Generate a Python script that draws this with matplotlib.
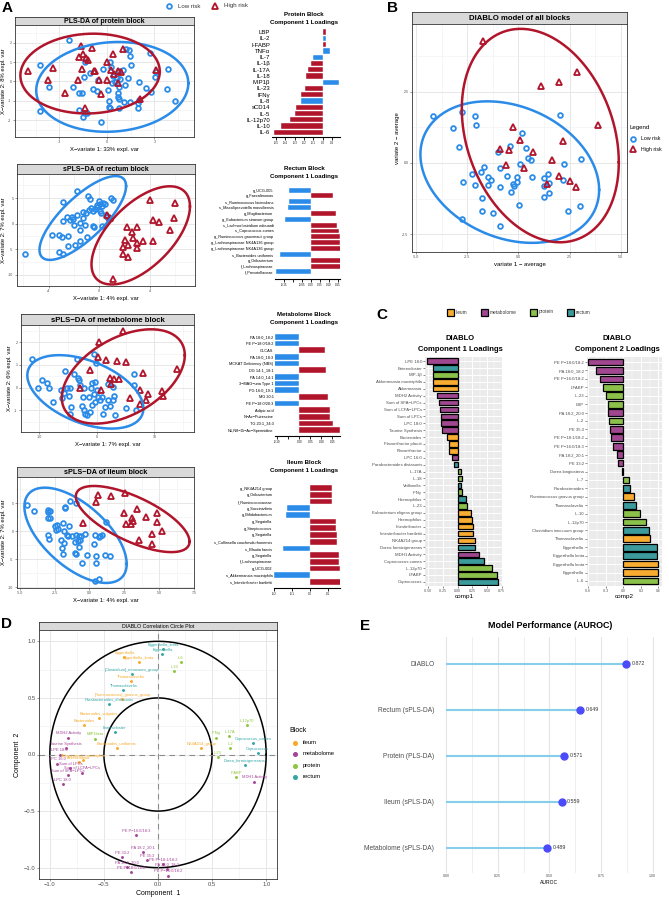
import numpy as np
import matplotlib.pyplot as plt
from matplotlib.ticker import AutoMinorLocator, FormatStrFormatter
from matplotlib.patches import Rectangle

plt.rcParams['font.family'] = ['Liberation Sans', 'DejaVu Sans']

BLUE = '#2B8BE8'
RED = '#B0152B'
BLOCK_COL = {'ileum': '#F9AC32', 'metabolome': '#A0478F', 'protein': '#8BC14A', 'rectum': '#3A9A9C'}
CIRC_COL = {'ileum': '#F7A928', 'metabolome': '#A44499', 'protein': '#8CC63E', 'rectum': '#33A7A7'}

# ---------------- panel A : protein PLS-DA ----------------
prot_low_x = [-2.40, -4.21, -3.64, -4.21, -2.15, -1.77, -1.55, -1.09, -0.53, -0.85, -0.60, -1.77, -1.40, -1.51,
              -1.23, -0.34, 0.15, 0.15, 0.19, 0.09, 0.30, 0.21, 0.26, 0.64, 0.74, 0.79, 0.68, 0.72, 0.79, 0.79,
              1.15, 1.32, 1.21, 1.38, 1.47, 1.53, 1.11, 1.49, 1.96, 2.02, 1.96, 2.49, 2.81, 3.06, 3.13, 2.74,
              3.81, 3.87, 4.30, 2.04, 0.49, 0.36, 0.83, 1.00, -0.26, -1.38, -1.47]
prot_low_y = [2.17, 0.88, -0.28, -1.52, -0.28, -0.59, -0.59, 0.45, 0.10, -0.41, -0.48, -1.48, -1.62, -1.86,
              -1.66, -2.09, -1.02, -1.34, -1.40, -0.45, -0.07, 1.02, 0.76, 0.16, 0.55, -0.28, -0.59, -0.79, -0.91,
              -1.36, -0.19, 0.16, 1.71, 1.62, 1.31, 0.84, -1.05, -1.05, -1.14, -0.97, -1.40, -0.36, -0.53, 0.21,
              0.50, 1.48, -0.40, 0.67, -1.02, -0.02, -0.02, 0.28, 0.12, 0.59, 0.64, 1.02, 0.24]
prot_high_x = [-5.0, -3.72, -3.43, -2.66, -1.81, -1.66, -1.77, -1.49, -1.30, -1.17, -1.55, -0.91, -0.77, -0.49,
               -0.38, 0.0, 0.0, 0.36, 0.26, 0.43, 0.68, 0.89, 1.00, 0.68, 2.11, 3.13, -1.38, -0.81]
prot_high_y = [0.55, 0.10, 0.72, -0.62, 0.10, 1.83, 1.28, 1.40, 1.24, 1.10, 0.67, 1.76, 0.55, 0.10,
               -0.66, 1.02, 0.10, 1.41, 0.59, 0.41, 0.55, 0.50, 1.71, -0.07, -0.93, 0.59, -1.40, 0.53]
# ellipse: centre x, centre y, half width, half height, correlation
prot_ell_low = [0.34, -0.28, 4.8, 2.33, 0.08]
prot_ell_high = [-1.06, 0.41, 4.4, 2.07, 0.05]

# ---------------- panel A : rectum sPLS-DA ----------------
rect_low_x = [-5.86, -3.75, -3.14, -2.96, -3.14, -2.82, -2.82, -1.72, -2.56, -2.82, -2.43, -2.03, -2.30, -1.98,
              -2.16, -1.72, -1.50, -1.50, -1.50, -1.90, -2.43, -1.24, -1.03, -1.29, -1.11, -0.98, -0.84, -0.71,
              -0.77, -0.63, -0.50, -0.32, -0.45, -0.37, -0.18, -0.18, 0.03, 0.08, 0.21, 0.08, 0.13, 0.34, 0.47,
              0.55, 0.92, 1.13, 0.66, 0.21]
rect_low_y = [-5.88, -2.16, -2.16, -2.61, -5.62, -5.88, 4.18, 6.34, 1.31, 0.46, -2.35, 0.92, 0.65, -0.20,
              1.31, 1.76, 0.13, -1.18, -3.46, -4.12, -4.31, 1.11, 2.09, 2.22, -0.20, -2.61, 5.36, 4.84,
              2.75, 3.07, 2.42, 2.88, -0.39, -0.65, 3.27, 3.73, 4.38, 3.92, 3.53, 2.42, 2.09, 4.05, 3.92,
              1.76, 5.03, 4.71, 1.31, -0.39]
rect_high_x = [1.13, 0.66, 0.87, 2.24, 2.98, 2.59, 2.06, 2.66, 2.98, 2.32, 1.93, 2.98, 1.93, 2.32, 3.51, 4.25,
               4.06, 4.25, 4.72, 5.62, 5.96, 6.02]
rect_high_y = [-10.85, 1.76, 1.11, -0.72, -0.72, -1.70, -3.14, -2.81, -3.79, -4.12, -4.58, -4.77, -5.88, -6.54,
               -3.46, -3.33, 4.58, 0.78, 0.26, -1.18, 1.11, 4.05]
rect_ell_low = [-1.29, 1.1, 3.43, 8.2, 0.76]
rect_ell_high = [3.3, -2.3, 3.9, 9.6, 0.59]

# ---------------- panel A : metabolome sPLS-DA ----------------
met_low_x = [-11.27, -9.54, -8.67, -8.38, -10.23, -7.69, -6.24, -6.07, -5.78, -5.20, -4.91, -4.62, -5.49, -4.45,
             -4.62, -3.47, -3.93, -3.35, -3.18, -2.89, -2.31, -2.43, -2.60, -2.31, -2.02, -1.73, -1.16, -1.45,
             -1.04, -0.87, -0.58, -0.12, -0.29, 0.0, 0.12, -0.29, 0.58, 0.87, 1.04, 1.45, 1.85, 2.31, 2.89,
             3.01, 3.18, 2.89, 1.85, -0.58, 6.42, 6.47, 5.03, 6.82, -0.87]
met_low_y = [1.26, 0.35, 0.21, -0.01, -0.01, -0.64, -0.12, -0.44, -0.22, -0.04, -0.37, 0.0, 0.74, -0.86,
             -1.15, 1.24, 0.59, 0.44, 0.32, 0.10, -0.04, -0.41, -0.83, -1.0, -1.15, -1.23, -1.08, -0.41,
             -0.04, 0.18, 1.46, 1.09, 0.25, -0.12, -0.41, -0.64, -0.56, -0.41, -1.15, -0.86, -0.53, -0.83, -0.56,
             -0.38, -1.23, 0.03, 0.15, -0.27, 0.62, 0.13, -0.89, -1.0, -0.78]
met_high_x = [4.62, 0.29, 0.12, 1.56, 3.58, 5.09, -1.27, 2.31, 3.01, 3.93, 2.49, 0.69, -2.89, 5.78, 7.51, 8.09,
              8.96, 8.50, 7.51, 11.27, 11.45, 13.87]
met_high_y = [2.50, 2.02, 1.36, 1.21, 1.18, 1.14, 0.77, 0.44, 0.38, 0.38, 0.15, -0.12, -0.04, -0.46, -0.12, 0.66,
              -0.27, -0.53, -0.71, -0.15, -0.38, 0.84]
met_ell_low = [-2.0, -0.19, 10.1, 1.62, -0.45]
met_ell_high = [4.6, 0.49, 10.7, 2.08, 0.45]

# ---------------- panel A : ileum sPLS-DA ----------------
ile_low_x = [-4.50, -3.96, -3.01, -2.94, -2.94, -2.82, -2.84, -2.46, -2.30, -2.23, -2.42, -1.90, -1.47, -1.82,
             -1.64, -1.52, -2.06, -1.82, -1.94, -1.87, -3.01, -2.89, -1.42, -1.75, -1.75, -1.0, -1.0, -1.04,
             -0.81, -0.71, -0.64, -0.76, -1.04, -0.95, -0.52, -0.33, -0.17, 0.38, 0.31, 0.47, 0.50, 0.66, 0.78,
             0.90, 1.18, 1.14, 1.45, 0.43, 0.71, -0.76, -1.23]
ile_low_y = [4.71, 3.65, 3.82, 3.53, 2.47, 2.47, 3.71, 0.88, 1.18, 0.41, 0.29, 1.47, 0.88, 0.12,
             -0.71, -0.88, -1.47, -2.06, -2.94, -4.0, -0.71, -1.29, 5.41, 4.41, 4.24, 5.0, -0.71, -1.88,
             -1.76, -1.47, -0.88, -2.82, -3.82, -4.0, -5.59, -0.47, -4.24, -0.71, -2.24, -4.41, -5.59, -1.06, -0.88,
             -0.71, 1.76, -4.24, -4.41, -8.94, -8.53, -0.76, -0.88]
ile_high_x = [0.62, 0.50, 1.56, 2.56, 2.51, 3.39, 3.03, 3.10, 2.99, 2.63, 4.05, 4.86, 4.81, 5.21, 4.50, 4.50,
              3.58, -0.47]
ile_high_y = [6.47, 5.18, 6.29, 6.88, 3.35, 3.94, 2.35, 1.94, 1.29, 1.29, 2.65, 3.35, 1.65, 0.0, -0.47, -2.18,
              -1.47, 1.47]
ile_ell_low = [-1.0, -0.7, 3.67, 8.5, -0.6]
ile_ell_high = [3.1, 2.2, 4.08, 5.9, -0.68]

# ---------------- panel A : loadings ----------------
prot_names = ['LBP', 'IL-2', 'I-FABP', 'TNFα', 'IL-7', 'IL-1β', 'IL-17A', 'IL-18', 'MIP1β', 'IL-23', 'IFNγ',
              'IL-8', 'sCD14', 'IL-5', 'IL-12p70', 'IL-10', 'IL-6']
prot_load = [0.03, 0.03, 0.04, 0.08, -0.10, -0.125, -0.155, -0.18, 0.18, -0.19, -0.23, -0.23, -0.29, -0.30,
             -0.35, -0.45, -0.52]
prot_group = ['High', 'Low', 'High', 'Low', 'Low', 'High', 'High', 'High', 'Low', 'High', 'High', 'Low', 'High',
              'High', 'High', 'High', 'High']

rect_names = ['g_UCG-005', 'g_Faecalimonas', 's_Ruminococcus bicirculans', 's_Massiliprevotella massiliensis',
              'g_Mogibacterium', 'g_Eubacterium siraeum group', 's_Lachnoclostridium edouardi',
              's_Coprococcus comes', 'g_Ruminococcus gauvreauii group', 'g_Lachnospiraceae NK4A136 group',
              'g_Lachnospiraceae NK4A136 group', 's_Bacteroides uniformis', 'g_Oribacterium',
              'f_Lachnospiraceae', 'f_Prevotellaceae']
rect_load = [-0.124, 0.124, -0.124, -0.13, 0.139, -0.144, 0.146, 0.155, 0.16, 0.16, 0.165, -0.172, 0.175, 0.18,
             -0.195]
rect_group = ['Low', 'High', 'Low', 'Low', 'High', 'Low', 'High', 'High', 'High', 'High', 'High', 'Low', 'High',
              'High', 'Low']

met_names = ['PA 18:0_18:2', 'PE P−18:0/18:2', 'GLCAS', 'PA 18:0_18:3', 'MCKAT Deficiency (NBS)',
             'DG 14:1_18:1', 'PA 14:0_14:1', '3−MAG−uria Type 1', 'PG 16:0_19:1', 'MG 20:1', 'PE P−18:0/20:3',
             'Adipic acid', 'N−Ac−Putrescine', 'TG 20:1_34:3', 'N1,N8−Di−Ac−Spermidine']
met_load = [-0.11, -0.11, 0.117, -0.115, -0.115, 0.121, -0.118, -0.123, -0.123, 0.132, -0.13, 0.139, 0.139,
            0.152, 0.185]
met_group = ['Low', 'Low', 'High', 'Low', 'Low', 'High', 'Low', 'Low', 'Low', 'High', 'Low', 'High', 'High',
             'High', 'High']

ile_names = ['g_NK4A214 group', 'g_Oribacterium', 'f_Ruminococcaceae', 'g_Succinivibrio', 'g_Bifidobacterium',
             'g_Segatella', 'g_Streptococcus', 'g_Segatella', 's_Collinsella couchesdurhonensis',
             's_Blautia faecis', 'g_Segatella', 'f_Lachnospiraceae', 'g_UCG-002', 's_Akkermansia muciniphila',
             's_Intestinibacter bartlettii']
ile_load = [0.12, 0.125, 0.125, -0.126, -0.135, 0.143, 0.143, 0.148, 0.148, -0.148, 0.163, 0.163, 0.168, -0.2,
            0.2]
ile_group = ['High', 'High', 'High', 'Low', 'Low', 'High', 'High', 'High', 'High', 'Low', 'High', 'High', 'High',
             'Low', 'High']

# ---------------- panel B : DIABLO ----------------
diab_low_x = [-4.18, -2.76, -3.21, -2.14, -2.06, -2.88, -2.72, -2.76, -2.24, -2.14, -1.70, -1.82, -1.46, -1.33,
              -1.46, -1.78, -1.78, -1.25, -0.97, -0.92, -0.92, -0.92, -0.41, -0.57, -0.37, -0.28, -0.19, -0.08,
              -0.05, 0.08, 0.16, 0.05, 0.37, 0.49, 0.60, 0.65, 1.23, 1.26, 1.46, 1.51, 1.51, 1.25, 2.03, 2.22,
              2.16, 2.41, 3.03, 3.08]
diab_low_y = [1.64, 1.78, 1.23, 1.64, 1.34, 0.56, -0.68, -1.95, -0.37, -0.78, -0.14, -0.33, -0.49, -0.58,
              -0.78, -1.23, -1.69, -1.75, 0.37, -0.18, -0.84, -2.20, 0.61, -0.47, -1.02, -0.72, -0.82, -0.67,
              -0.49, -0.04, 1.05, -1.48, 0.53, 0.18, 0.09, -0.50, -0.53, -1.19, -0.37, -0.70, -1.05, -0.82, 1.67,
              -0.02, -0.58, -1.69, -1.52, 0.14]
diab_high_x = [-1.75, -0.24, -0.89, -0.47, -0.62, 0.06, 0.26, 0.73, 1.10, 1.96, 2.88, 3.89, 2.16, 1.64, 1.99,
               2.51, 2.80, 1.38]
diab_high_y = [4.29, 1.26, 0.50, 0.44, -0.08, 0.79, -0.16, 0.37, 2.71, 2.83, 3.18, 1.32, 0.77, 0.11, -0.44,
               -0.64, -0.83, -0.72]
diab_ell_low = [-0.42, -0.32, 4.36, 2.48, -0.25]
diab_ell_high = [1.07, 0.96, 3.83, 3.74, -0.25]

# ---------------- panel C : DIABLO loadings ----------------
c1_names = ['LPE 18:0', 'Enterocloster', 'MIP-1β', 'Akkermansia muciniphila', 'Akkermansia', 'MDH2 Activity',
            'Sum of SFA−LPCs', 'Sum of LCFA−LPCs', 'Sum of LPCs', 'LPC 18:0', 'Taurine Synthesis', 'Bacteroides',
            'Flavonifractor plautii', 'Flavonifractor', 'LPC 16:0', 'Parabacteroides distasonis', 'IL-17A',
            'IL-18', 'Veillonella', 'IFNγ', 'Haemophilus', 'IL-23', 'Eubacterium eligens group', 'Haemophilus',
            'Intestinibacter', 'Intestinibacter bartlettii', 'NK4A214 group', 'Dorea formicigenerans',
            'MDH1 Activity', 'Coprococcus comes', 'IL-12p70', 'I-FABP', 'Coprococcus']
c1_vals = [-0.51, -0.42, -0.41, -0.41, -0.41, -0.34, -0.32, -0.29, -0.28, -0.28, -0.27, -0.17, -0.14, -0.14,
           -0.09, -0.06, 0.06, 0.08, 0.06, 0.08, 0.15, 0.16, 0.22, 0.25, 0.27, 0.27, 0.29, 0.30, 0.36, 0.44,
           0.58, 0.66, 0.69]
c1_block = ['metabolome', 'rectum', 'protein', 'ileum', 'ileum', 'metabolome', 'metabolome', 'metabolome',
            'metabolome', 'metabolome', 'metabolome', 'ileum', 'ileum', 'ileum', 'metabolome', 'rectum',
            'protein', 'protein', 'rectum', 'protein', 'rectum', 'protein', 'ileum', 'ileum', 'ileum', 'ileum',
            'ileum', 'rectum', 'metabolome', 'rectum', 'protein', 'protein', 'rectum']

c2_names = ['PE P−18:0/18:2', 'PA 18:0_18:2', 'PE P−16:0/18:2', 'I-FABP', 'IL-23', 'LBP', 'PA 18:2_20:0',
            'IL-2', 'PE 35:3', 'PE P−18:1/18:2', 'PE P−16:0/18:3', 'PA 18:2_20:1', 'PE 33:2',
            'Dorea longicatena', 'IL-7', 'Parabacteroides', 'Ruminococcus gnavus group', 'Thomasclavelia',
            'IL-10', 'IL-12p70', 'Clostridium innocuum group', 'Thomasclavelia', 'Eggerthella',
            'Eggerthella lenta', 'Eggerthella lenta', 'Eggerthella', 'IL-6']
c2_vals = [-0.60, -0.47, -0.40, -0.34, -0.30, -0.26, -0.26, -0.25, -0.23, -0.21, -0.17, -0.11, -0.09, -0.03,
           0.09, 0.11, 0.19, 0.22, 0.29, 0.38, 0.44, 0.46, 0.58, 0.58, 0.60, 0.60, 0.60]
c2_block = ['metabolome', 'metabolome', 'metabolome', 'protein', 'protein', 'protein', 'metabolome', 'protein',
            'metabolome', 'metabolome', 'metabolome', 'metabolome', 'metabolome', 'rectum', 'protein', 'rectum',
            'ileum', 'rectum', 'protein', 'protein', 'rectum', 'ileum', 'rectum', 'rectum', 'ileum', 'ileum',
            'protein']

# ---------------- panel D : correlation circle ----------------
d_names = ['Eggerthella_lenta', 'Eggerthella', 'Eggerthella', 'Eggerthella_lenta', 'IL6', 'IL10',
           '[Clostridium]_innocuum_group', 'Thomasclavelia', 'Thomasclavelia', '[Ruminococcus]_gnavus_group',
           'Parabacteroides_distasonis', 'Bacteroides_vulgatus', 'Bacteroides', 'Enterocloster', 'MDH2 Activity',
           'MIP1beta', 'Taurine Synthesis', 'Bacteroides_uniformis', 'LPE 18:0', 'Akkermansia_muciniphila',
           'Akkermansia', 'LPC 16:0', 'Sum of LPCs', 'Sum of LCFA−LPCs', 'Sum of SFA−LPCs', 'LPC 18:0',
           'IL12p70', 'IFNg', 'IL17A', 'Coprococcus_comes', 'IL2', 'NK4A214_group', 'IL23', 'Coprococcus',
           'Dorea_formicigenerans', 'IFABP', 'MDH1 Activity', 'PE P−16:0/18:3', 'PA 18:2_20:1', 'PE 33:2',
           'PE 35:3', 'PE P−18:1/18:2', 'PA 18:2_20:0', 'PA 18:0_18:2', 'PE P−18:0/18:2', 'PE P−16:0/18:2']
d_block = ['rectum', 'rectum', 'ileum', 'ileum', 'protein', 'protein', 'rectum', 'ileum', 'rectum', 'ileum',
           'rectum', 'ileum', 'ileum', 'rectum', 'metabolome', 'protein', 'metabolome', 'ileum', 'metabolome',
           'ileum', 'ileum', 'metabolome', 'metabolome', 'metabolome', 'metabolome', 'metabolome', 'protein',
           'protein', 'protein', 'rectum', 'protein', 'ileum', 'protein', 'rectum', 'rectum', 'protein',
           'metabolome', 'metabolome', 'metabolome', 'metabolome', 'metabolome', 'metabolome', 'metabolome',
           'metabolome', 'metabolome', 'metabolome']
d_x = [0.05, 0.04, -0.31, -0.18, 0.21, 0.15, -0.24, -0.25, -0.32, -0.33, -0.45, -0.55, -0.68, -0.40, -0.83,
       -0.58, -0.85, -0.38, -0.91, -0.69, -0.73, -0.93, -0.81, -0.70, -0.83, -0.88, 0.82, 0.54, 0.66, 0.88,
       0.67, 0.40, 0.55, 0.92, 0.80, 0.72, 0.89, -0.20, -0.14, -0.33, -0.10, 0.05, -0.29, 0.08, -0.25, 0.09]
d_y = [0.93, 0.89, 0.86, 0.82, 0.82, 0.74, 0.71, 0.65, 0.57, 0.49, 0.45, 0.32, 0.26, 0.20, 0.15, 0.14, 0.06,
       0.06, 0.0, -0.05, -0.07, -0.08, -0.12, -0.16, -0.18, -0.26, 0.26, 0.15, 0.16, 0.10, 0.06, 0.06, -0.02,
       0.01, -0.09, -0.20, -0.24, -0.71, -0.86, -0.91, -0.93, -0.97, -0.99, -1.01, -1.04, -1.07]
d_radii = [1.0, 0.5]

# ---------------- panel E : AUROC ----------------
e_models = ['DIABLO', 'Rectum (sPLS-DA)', 'Protein (PLS-DA)', 'Ileum (sPLS-DA)', 'Metabolome (sPLS-DA)']
e_auroc = [0.872, 0.649, 0.571, 0.559, 0.489]

W, H = 669, 900
fig = plt.figure(figsize=(W / 100, H / 100), dpi=100)

# overlay in pixel coordinates for letters, titles and legends
ov = fig.add_axes([0, 0, 1, 1])
ov.set_xlim(0, W)
ov.set_ylim(H, 0)
ov.axis('off')


def px_axes(x0, y0, x1, y1):
    return fig.add_axes([x0 / W, 1 - y1 / H, (x1 - x0) / W, (y1 - y0) / H])


def ellipse_pts(cx, cy, wx, wy, rho):
    t = np.linspace(0, 2 * np.pi, 240)
    return cx + wx * np.cos(t), cy + wy * (rho * np.cos(t) + np.sqrt(1 - rho ** 2) * np.sin(t))


def risk_panel(box, strip_top, title, tsize, low, high, ell_low, ell_high, xlim, ylim, xt, yt, fmt, xlab, ylab,
               lab_size=4.2, tick_size=2.6):
    x0, y0, x1, y1 = box
    st = px_axes(x0, strip_top, x1, y0)
    st.set_facecolor('#D9D9D9')
    st.set_xticks([])
    st.set_yticks([])
    for s in st.spines.values():
        s.set_color('#333333')
        s.set_linewidth(0.6)
    st.text(0.5, 0.45, title, ha='center', va='center', fontsize=tsize, fontweight='bold', transform=st.transAxes)
    ax = px_axes(x0, y0, x1, y1)
    ax.plot(low[0], low[1], ls='none', marker='o', ms=3.4, mfc='none', mec=BLUE, mew=1.3)
    ax.plot(high[0], high[1], ls='none', marker='^', ms=3.9, mfc='none', mec=RED, mew=1.3)
    for e, c in ((ell_low, BLUE), (ell_high, RED)):
        ex, ey = ellipse_pts(*e)
        ax.plot(ex, ey, color=c, lw=1.8)
    ax.set_xlim(xlim)
    ax.set_ylim(ylim)
    ax.set_xticks(xt)
    ax.set_yticks(yt)
    ax.xaxis.set_major_formatter(FormatStrFormatter(fmt[0]))
    ax.yaxis.set_major_formatter(FormatStrFormatter(fmt[1]))
    ax.xaxis.set_minor_locator(AutoMinorLocator(2))
    ax.yaxis.set_minor_locator(AutoMinorLocator(2))
    ax.grid(True, which='major', color='#E3E3E3', lw=0.6)
    ax.grid(True, which='minor', color='#F0F0F0', lw=0.4)
    ax.set_axisbelow(True)
    ax.tick_params(labelsize=tick_size, colors='#4D4D4D', length=1.5, width=0.4, pad=1)
    ax.tick_params(which='minor', length=0)
    for s in ax.spines.values():
        s.set_color('#333333')
        s.set_linewidth(0.6)
    ax.set_xlabel(xlab, fontsize=lab_size, labelpad=1.5)
    ax.set_ylabel(ylab, fontsize=lab_size, labelpad=1.5)
    return ax


def load_panel(box, names, vals, groups, xlim, xt, xtl, lab_size, pad_bottom):
    x0, y0, x1, y1 = box
    ax = px_axes(x0, y0, x1, y1)
    yy = np.arange(len(names))
    cols = [RED if g == 'High' else BLUE for g in groups]
    ax.barh(yy, vals, height=0.85, color=cols, edgecolor='white', linewidth=0.3)
    ax.set_ylim(len(names) - 1 + pad_bottom, -0.6)
    ax.set_xlim(xlim)
    ax.set_yticks(yy)
    ax.set_yticklabels(names, fontsize=lab_size)
    ax.set_xticks(xt)
    ax.set_xticklabels(xtl, fontsize=2.0)
    ax.tick_params(axis='y', length=0, pad=1)
    ax.tick_params(axis='x', length=2, width=0.6, pad=1)
    for s in ['top', 'right', 'left']:
        ax.spines[s].set_visible(False)
    ax.spines['bottom'].set_linewidth(0.8)
    return ax


# ---- panel A scatter plots
risk_panel((15, 25, 194, 137), 17, 'PLS-DA of protein block', 5.0, (prot_low_x, prot_low_y),
           (prot_high_x, prot_high_y), prot_ell_low, prot_ell_high, (-5.8, 5.5), (-2.88, 2.93),
           [-3, 0, 3], [-2, -1, 0, 1, 2], ('%d', '%d'), 'X−variate 1: 33% expl. var', 'X−variate 2: 8% expl. var')
risk_panel((17, 174, 195, 286), 164, 'sPLS−DA of rectum block', 5.0, (rect_low_x, rect_low_y),
           (rect_high_x, rect_high_y), rect_ell_low, rect_ell_high, (-6.5, 7.6), (-12.2, 9.7),
           [-4, 0, 4], [-10, -5, 0, 5], ('%d', '%d'), 'X−variate 1: 4% expl. var', 'X−variate 2: 7% expl. var')
risk_panel((21, 325, 194, 432), 314, 'sPLS−DA of metabolome block', 5.6, (met_low_x, met_low_y),
           (met_high_x, met_high_y), met_ell_low, met_ell_high, (-13.2, 16.9), (-1.96, 2.76),
           [-10, 0, 10], [-1, 0, 1, 2], ('%d', '%d'), 'X−variate 1: 7% expl. var', 'X−variate 2: 6% expl. var')
risk_panel((17, 477, 194, 588), 467, 'sPLS−DA of ileum block', 5.2, (ile_low_x, ile_low_y),
           (ile_high_x, ile_high_y), ile_ell_low, ile_ell_high, (-5.2, 7.5), (-10.1, 9.7),
           [-5, -2.5, 0, 2.5, 5, 7.5], [-10, -5, 0, 5], ('%.1f', '%d'), 'X−variate 1: 4% expl. var',
           'X−variate 2: 7% expl. var')

# ---- panel A loadings
load_panel((271.5, 28.4, 340.4, 137), prot_names, prot_load, prot_group, (-0.55, 0.19),
           [-0.5, -0.4, -0.3, -0.2, -0.1, 0.0, 0.1], ['-0.5', '-0.4', '-0.3', '-0.2', '-0.1', '0.0', '0.1'],
           4.3, 0.75)
load_panel((275, 186.5, 339.8, 279), rect_names, rect_load, rect_group, (-0.2, 0.16),
           [-0.15, -0.10, -0.05, 0.0, 0.05, 0.10, 0.15], ['-0.15', '', '-0.05', '0.00', '0.05', '0.10', '0.15'],
           2.8, 1.2)
load_panel((275, 333, 340, 436), met_names, met_load, met_group, (-0.11, 0.185),
           [-0.10, -0.05, 0.0, 0.05, 0.10, 0.15], ['-0.10', '', '0.00', '0.05', '0.10', '0.15'], 2.8, 0.9)
load_panel((274, 484, 340, 588), ile_names, ile_load, ile_group, (-0.2, 0.167),
           [-0.2, -0.1, 0.0, 0.1], ['-0.2', '-0.1', '0.0', '0.1'], 2.8, 0.9)

for ty, t1 in ((14, 'Protein Block'), (168, 'Rectum Block'), (314, 'Metabolome Block'), (462, 'Ileum Block')):
    ov.text(304, ty, t1, ha='center', va='center', fontsize=4.4, fontweight='bold')
    ov.text(304, ty + 8.5, 'Component 1 Loadings', ha='center', va='center', fontsize=4.4, fontweight='bold')

# panel A legend
ov.plot([169], [6], ls='none', marker='o', ms=3.4, mfc='none', mec=BLUE, mew=1.3)
ov.text(178, 6, 'Low risk', va='center', fontsize=4.4, color='#333333')
ov.plot([215], [6], ls='none', marker='^', ms=3.9, mfc='none', mec=RED, mew=1.3)
ov.text(224, 6, 'High risk', va='center', fontsize=4.4, color='#333333')

# ---- panel B
risk_panel((412, 24, 627, 252), 12, 'DIABLO model of all blocks', 5.6, (diab_low_x, diab_low_y),
           (diab_high_x, diab_high_y), diab_ell_low, diab_ell_high, (-5.19, 5.3), (-3.12, 4.87),
           [-5, -2.5, 0, 2.5, 5], [-2.5, 0, 2.5], ('%.1f', '%.1f'), 'variate 1 − average',
           'variate 2 − average', lab_size=4.3, tick_size=2.6)
ov.text(629, 128, 'Legend', va='center', fontsize=4.4)
ov.plot([633], [139], ls='none', marker='o', ms=3.4, mfc='none', mec=BLUE, mew=1.3)
ov.text(641, 139, 'Low risk', va='center', fontsize=3.8)
ov.plot([633], [149], ls='none', marker='^', ms=3.9, mfc='none', mec=RED, mew=1.3)
ov.text(641, 149, 'High risk', va='center', fontsize=3.8)


# ---- panel C
def c_panel(box, names, vals, blocks, xlim, xt, xtl, xlab):
    ax = px_axes(*box)
    ax.set_facecolor('#EBEBEB')
    yy = np.arange(len(names))
    ax.barh(yy, vals, height=0.8, color=[BLOCK_COL[b] for b in blocks], edgecolor='black', linewidth=0.9,
            zorder=3)
    ax.set_ylim(len(names) - 0.4, -0.6)
    ax.set_xlim(xlim)
    ax.set_yticks(yy)
    ax.set_yticklabels(names, fontsize=3.1, color='#4D4D4D')
    ax.set_xticks(xt)
    ax.set_xticklabels(xtl, fontsize=2.5, color='#4D4D4D')
    ax.xaxis.set_minor_locator(AutoMinorLocator(2))
    ax.grid(True, which='major', color='white', lw=0.7)
    ax.grid(True, which='minor', axis='x', color='white', lw=0.35)
    ax.set_axisbelow(True)
    ax.tick_params(length=1.2, width=0.4, color='#333333', pad=1)
    ax.tick_params(which='minor', length=0)
    for s in ax.spines.values():
        s.set_visible(False)
    ax.set_xlabel(xlab, fontsize=4.6, labelpad=1)
    return ax


c_panel((425, 357, 503, 586), c1_names, c1_vals, c1_block, (-0.55, 0.77),
        [-0.5, -0.25, 0, 0.25, 0.5, 0.75], ['-0.50', '-0.25', '0.00', '0.25', '0.50', '0.75'], 'comp1')
c_panel((587, 357, 662, 586), c2_names, c2_vals, c2_block, (-0.62, 0.66),
        [-0.6, -0.3, 0, 0.3, 0.6], ['-0.6', '-0.3', '0.0', '0.3', '0.6'], 'comp2')
for cx, comp in ((460, 1), (617, 2)):
    ov.text(cx, 338, 'DIABLO', ha='center', va='center', fontsize=5.5, fontweight='bold')
    ov.text(cx, 349.5, 'Component %d Loadings' % comp, ha='center', va='center', fontsize=5.5,
            fontweight='bold')
for bx, blk in zip([450, 484, 533, 570], ['ileum', 'metabolome', 'protein', 'rectum']):
    ov.add_patch(Rectangle((bx - 3.5, 308.5), 7, 7, facecolor=BLOCK_COL[blk], edgecolor='black', lw=0.9))
    ov.text(bx + 6, 312, blk, va='center', fontsize=3.4, color='#333333')

# ---- panel D
st = px_axes(39, 622, 277, 630)
st.set_facecolor('#D9D9D9')
st.set_xticks([])
st.set_yticks([])
for s in st.spines.values():
    s.set_color('#333333')
    s.set_linewidth(0.6)
st.text(0.5, 0.45, 'DIABLO Correlation Circle Plot', ha='center', va='center', fontsize=3.8,
        transform=st.transAxes)
axd = px_axes(39, 630, 277, 879)
t = np.linspace(0, 2 * np.pi, 400)
for r in d_radii:
    axd.plot(r * np.cos(t), r * np.sin(t), color='black', lw=1.1)
axd.axhline(0, ls=(0, (5, 4)), color='#8C8C8C', lw=0.8)
axd.axvline(0, ls=(0, (5, 4)), color='#8C8C8C', lw=0.8)
for lab, blk, x, y in zip(d_names, d_block, d_x, d_y):
    axd.plot([x], [y], ls='none', marker='o', ms=1.1, color=CIRC_COL[blk])
    axd.annotate(lab, (x, y), xytext=(0, 3), textcoords='offset points', ha='center', va='center',
                 fontsize=2.9, color=CIRC_COL[blk])
axd.set_xlim(-1.1, 1.1)
axd.set_ylim(-1.1, 1.1)
axd.set_xticks([-1.0, -0.5, 0.0, 0.5, 1.0])
axd.set_yticks([-1.0, -0.5, 0.0, 0.5, 1.0])
axd.xaxis.set_minor_locator(AutoMinorLocator(2))
axd.yaxis.set_minor_locator(AutoMinorLocator(2))
axd.grid(True, which='major', color='#E3E3E3', lw=0.6)
axd.grid(True, which='minor', color='#F0F0F0', lw=0.4)
axd.set_axisbelow(True)
axd.tick_params(labelsize=4.2, colors='#4D4D4D', length=1.5, width=0.4, pad=1)
axd.tick_params(which='minor', length=0)
for s in axd.spines.values():
    s.set_color('#333333')
    s.set_linewidth(0.6)
axd.set_xlabel('Component  1', fontsize=5, labelpad=2)
axd.set_ylabel('Component  2', fontsize=5, labelpad=2)
ov.text(289, 731, 'Block', va='center', fontsize=5)
for yy, blk in zip([743, 753.5, 766, 777], ['ileum', 'metabolome', 'protein', 'rectum']):
    ov.plot([295], [yy], ls='none', marker='o', ms=2.6, color=CIRC_COL[blk])
    ov.text(303, yy, blk, va='center', fontsize=4.2)

# ---- panel E
axe = px_axes(435.7, 637, 663, 873)
ye = np.arange(len(e_models))
axe.hlines(ye, 0, e_auroc, color='#87CEEB', lw=1.5, zorder=2)
axe.plot(e_auroc, ye, ls='none', marker='o', ms=5, color='#4B4BFA', zorder=3)
for v, y in zip(e_auroc, ye):
    axe.annotate('%.3f' % v, (v, y), xytext=(4, 0), textcoords='offset points', va='center', fontsize=3.8,
                 color='#333333')
axe.set_xlim(-0.05, 1.05)
axe.set_ylim(len(e_models) - 0.45, -0.58)
axe.set_xticks([0, 0.25, 0.5, 0.75, 1.0])
axe.set_xticklabels(['0.00', '0.25', '0.50', '0.75', '1.00'], fontsize=2.6, color='#4D4D4D')
axe.xaxis.set_minor_locator(AutoMinorLocator(2))
axe.set_yticks(ye)
axe.set_yticklabels(e_models, fontsize=4.8, color='#4D4D4D')
axe.grid(True, which='major', axis='x', color='#E5E5E5', lw=0.8)
axe.grid(True, which='minor', axis='x', color='#EDEDED', lw=0.6)
axe.set_axisbelow(True)
axe.tick_params(length=0, pad=1)
axe.tick_params(which='minor', length=0)
for s in axe.spines.values():
    s.set_visible(False)
axe.set_xlabel('AUROC', fontsize=3.6, labelpad=1)
ov.text(550, 626, 'Model Performance (AUROC)', ha='center', va='center', fontsize=6.4, fontweight='bold')

# panel letters
for lx, ly, letter in ((7, 8, 'A'), (393, 8, 'B'), (382, 315, 'C'), (6, 624, 'D'), (365, 626, 'E')):
    ov.text(lx, ly, letter, ha='center', va='center', fontsize=11, fontweight='bold')

fig.savefig('out.png', dpi=100)
